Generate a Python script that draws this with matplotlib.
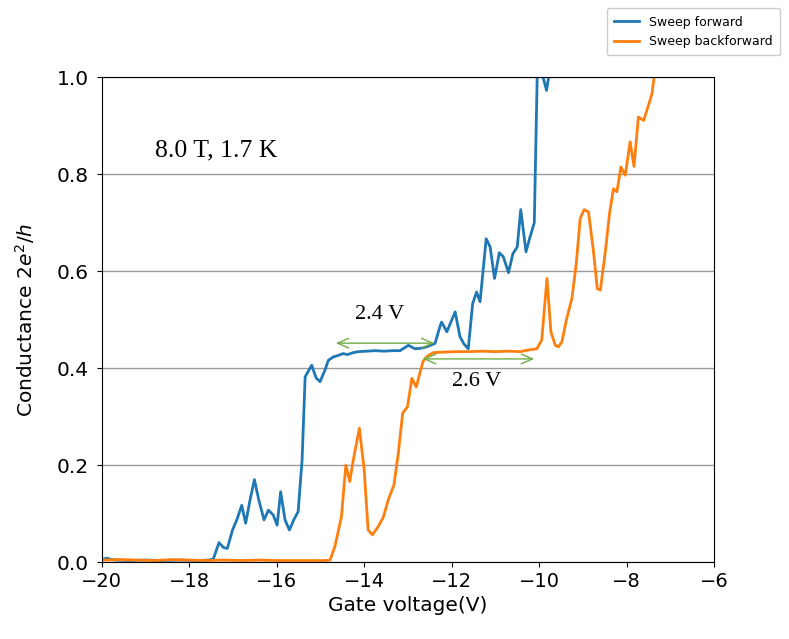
import numpy as np
import matplotlib
matplotlib.use("Agg")
import matplotlib.pyplot as plt

# forward sweep
v_fwd = [-20.0, -19.9, -19.7, -19.4, -19.0, -18.6, -18.2, -17.8, -17.55, -17.45,
         -17.32, -17.22, -17.13, -17.01, -16.90, -16.80, -16.71, -16.61, -16.51, -16.41,
         -16.29, -16.19, -16.08, -15.99, -15.91, -15.81, -15.71, -15.61, -15.51, -15.42,
         -15.35, -15.20, -15.10, -15.01, -14.90, -14.82, -14.71, -14.60, -14.48, -14.38,
         -14.25, -14.13, -13.95, -13.75, -13.55, -13.35, -13.18, -12.99, -12.84, -12.70,
         -12.57, -12.38, -12.27, -12.23, -12.11, -11.92, -11.81, -11.72, -11.62, -11.52,
         -11.43, -11.35, -11.21, -11.12, -11.02, -10.91, -10.82, -10.70, -10.60, -10.50,
         -10.42, -10.30, -10.21, -10.11, -10.04, -9.94, -9.83, -9.75, -9.65]
g_fwd = [0.004, 0.008, 0.004, 0.003, 0.004, 0.003, 0.004, 0.003, 0.004, 0.006,
         0.040, 0.030, 0.028, 0.066, 0.090, 0.117, 0.080, 0.128, 0.170, 0.128,
         0.087, 0.107, 0.097, 0.076, 0.145, 0.087, 0.066, 0.087, 0.104, 0.210,
         0.382, 0.406, 0.380, 0.372, 0.395, 0.416, 0.423, 0.426, 0.430, 0.428,
         0.432, 0.434, 0.435, 0.436, 0.435, 0.436, 0.436, 0.447, 0.440, 0.441,
         0.444, 0.451, 0.485, 0.495, 0.475, 0.516, 0.465, 0.450, 0.440, 0.533,
         0.557, 0.537, 0.667, 0.650, 0.585, 0.638, 0.630, 0.597, 0.636, 0.650,
         0.727, 0.640, 0.670, 0.700, 1.020, 1.010, 0.973, 1.020, 1.060]

# backward sweep
v_bwd = [-20.0, -19.6, -19.2, -18.8, -18.4, -18.0, -17.6, -17.2, -16.8, -16.4,
         -16.0, -15.6, -15.2, -14.9, -14.78, -14.67, -14.52, -14.42, -14.33, -14.25,
         -14.11, -14.00, -13.91, -13.81, -13.68, -13.56, -13.45, -13.32, -13.22, -13.12,
         -13.01, -12.91, -12.81, -12.72, -12.65, -12.55, -12.42, -12.2, -11.9, -11.6,
         -11.3, -11.0, -10.7, -10.43, -10.21, -10.05, -9.94, -9.82, -9.73, -9.63,
         -9.56, -9.48, -9.37, -9.25, -9.15, -9.06, -8.97, -8.87, -8.76, -8.67,
         -8.60, -8.49, -8.39, -8.30, -8.22, -8.13, -8.03, -7.92, -7.83, -7.73,
         -7.61, -7.50, -7.42, -7.37, -7.30]
g_bwd = [0.004, 0.005, 0.004, 0.003, 0.005, 0.004, 0.003, 0.004, 0.003, 0.004,
         0.003, 0.003, 0.003, 0.003, 0.004, 0.032, 0.093, 0.200, 0.166, 0.210,
         0.276, 0.190, 0.066, 0.056, 0.073, 0.093, 0.128, 0.159, 0.224, 0.307,
         0.320, 0.379, 0.361, 0.392, 0.415, 0.425, 0.432, 0.433, 0.434, 0.434,
         0.435, 0.434, 0.435, 0.434, 0.438, 0.440, 0.458, 0.585, 0.475, 0.447,
         0.444, 0.454, 0.502, 0.544, 0.616, 0.709, 0.727, 0.722, 0.643, 0.564,
         0.561, 0.637, 0.719, 0.770, 0.764, 0.815, 0.798, 0.867, 0.816, 0.918,
         0.911, 0.942, 0.966, 1.000, 1.040]

fig = plt.figure(figsize=(7.89, 6.39), dpi=100)
ax = fig.add_axes([0.129, 0.1205, 0.776, 0.7585])

l1, = ax.plot(v_fwd, g_fwd, color='tab:blue', lw=2, label='Sweep forward')
l2, = ax.plot(v_bwd, g_bwd, color='tab:orange', lw=2, label='Sweep backforward')

ax.set_xlim(-20, -6)
ax.set_ylim(0, 1.0)
ax.set_xticks(np.arange(-20, -5, 2))
ax.set_yticks([0.0, 0.2, 0.4, 0.6, 0.8, 1.0])
ax.yaxis.grid(True, color='0.6', lw=1)
ax.set_axisbelow(True)
ax.tick_params(labelsize=14)
ax.tick_params(axis='y', pad=6, labelsize=14.5)
ax.set_xlabel('Gate voltage(V)', fontsize=14.5)
ax.set_ylabel('Conductance $2e^2/h$', fontsize=14.5, labelpad=14)

serif = ['Liberation Serif', 'DejaVu Serif']
ax.text(-18.79, 0.85, '8.0 T, 1.7 K', fontsize=18.5, family=serif, va='center')
ax.text(-13.64, 0.51, '2.4 V', fontsize=16, family=serif, ha='center', va='center')
ax.text(-11.42, 0.372, '2.6 V', fontsize=16, family=serif, ha='center', va='center')

arr = dict(arrowstyle='<->,head_length=0.8,head_width=0.35', color='#70ad47', lw=1)
ax.annotate('', xy=(-14.71, 0.4515), xytext=(-12.33, 0.4515), arrowprops=arr)
ax.annotate('', xy=(-12.72, 0.419), xytext=(-10.05, 0.419), arrowprops=arr)

fig.legend(handles=[l1, l2], loc='upper right', bbox_to_anchor=(0.997, 0.997),
           fontsize=9, framealpha=1, borderpad=0.6)

fig.savefig('out.png', dpi=100)
